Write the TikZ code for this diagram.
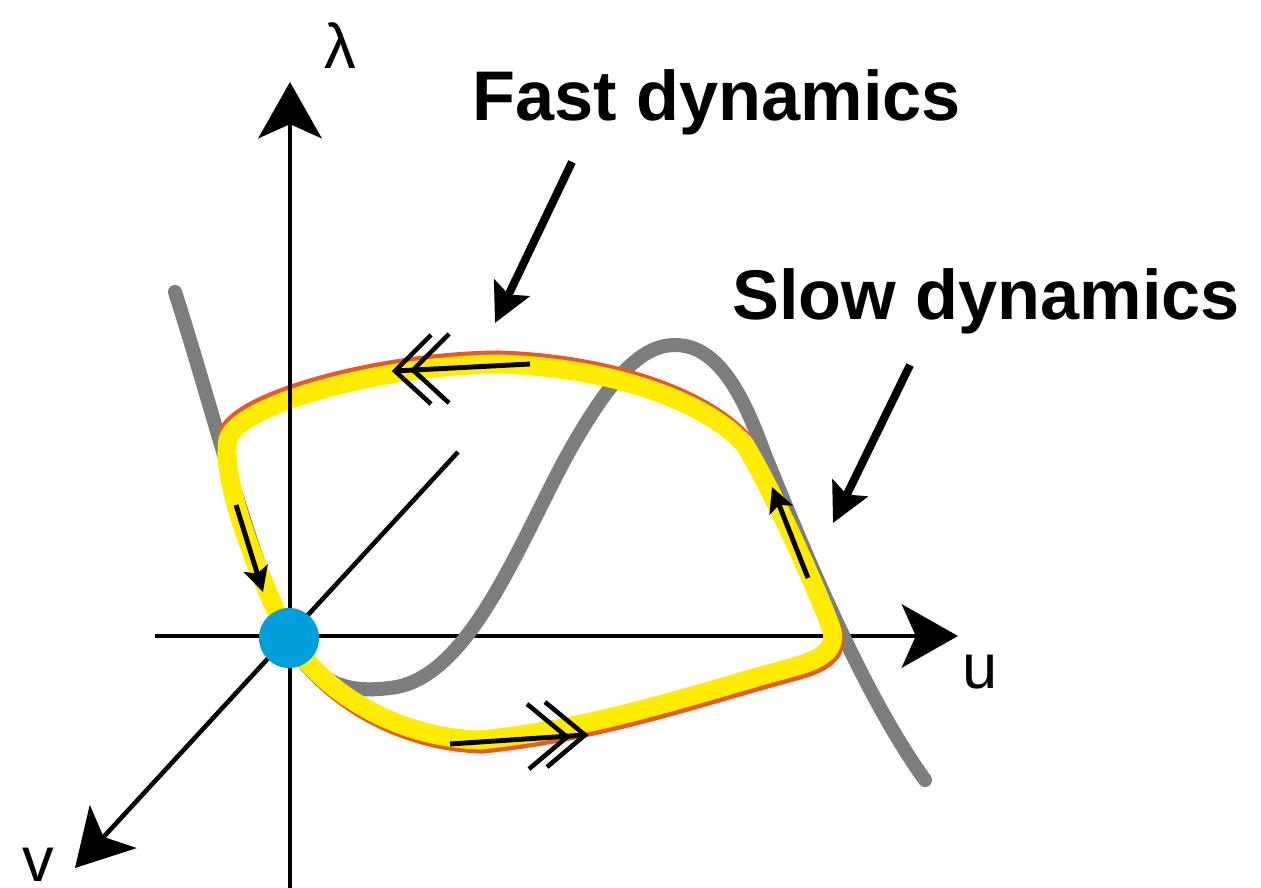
\documentclass[tikz,border=0pt]{standalone}
\usepackage{fontspec}
\setmainfont{Liberation Sans}
\usetikzlibrary{arrows.meta,calc}
\definecolor{gcurve}{RGB}{125,125,125}
\definecolor{ylw}{RGB}{255,236,0}
\definecolor{rd}{RGB}{232,88,40}
\definecolor{dotc}{RGB}{0,158,219}
\begin{document}
\begin{tikzpicture}[x=0.02cm,y=-0.02cm,
  axis/.style={line width=2.6pt,-{Stealth[length=32pt,width=36pt,inset=8pt]}},
  graycurve/.style={line width=8pt,gcurve,line cap=round},
  looppath/.style={line width=10.8pt,ylw},
  redpath/.style={line width=10.8pt,rd},
  loopline/.style={line width=2.8pt,black},
  chev/.style={line width=2.6pt,black,miter limit=10},
  annot/.style={line width=4.6pt,-{Stealth[length=22pt,width=22pt,inset=4pt]}},
  title/.style={font=\fontsize{40}{48}\selectfont\bfseries,inner sep=0pt},
  lab/.style={font=\fontsize{36}{40}\selectfont,inner sep=0pt}]
\clip (0,0) rectangle (1261,888);
\fill[white] (0,0) rectangle (1261,888);

% coordinates
\coordinate (O) at (289,638);
\coordinate (ytop) at (290,82);
\coordinate (ybot) at (290,895);
\coordinate (xl) at (155,636);
\coordinate (xr) at (958,636);
\coordinate (vd) at (458,452);
\coordinate (vt) at (75,868);

% horizontal and diagonal axes
\draw[axis] (xl) -- (xr);
\draw[axis] (vd) -- (vt);

% gray curve
\draw[graycurve] (175,292) .. controls (210,400) and (250,560) .. (O)
  .. controls (320,690) and (355,692) .. (390,688)
  .. controls (470,680) and (520,540) .. (570,450)
  .. controls (610,380) and (640,345) .. (675,345)
  .. controls (720,345) and (745,400) .. (765,455)
  .. controls (800,540) and (860,690) .. (925,780);

% red edges
\draw[redpath,yshift=2.3pt,xshift=-0.8pt] (228,440) .. controls (236,405) and (380,365) .. (500,364)
  .. controls (620,368) and (710,405) .. (745,445);
\draw[redpath,yshift=-2.3pt,xshift=1.2pt] (830,625) .. controls (840,650) and (820,660) .. (790,668)
  .. controls (700,692) and (600,728) .. (480,740)
  .. controls (400,738) and (325,695) .. (O);

% yellow loop
\draw[looppath] (O) .. controls (260,580) and (220,480) .. (228,440)
  .. controls (236,405) and (380,365) .. (500,364)
  .. controls (620,368) and (710,405) .. (745,445)
  .. controls (775,495) and (815,585) .. (830,625)
  .. controls (840,650) and (820,660) .. (790,668)
  .. controls (700,692) and (600,728) .. (480,740)
  .. controls (400,738) and (325,695) .. (O) -- cycle;

% vertical axis
\draw[axis] (ybot) -- (ytop);

% blue dot
\node[circle,fill=dotc,minimum size=1.2cm,inner sep=0pt] (dot) at (O) {};

% arrows on the loop
\coordinate (ta0) at (530,364);
\coordinate (ta1) at (395,371);
\coordinate (ta2) at (413,370);
\draw[loopline] (ta0) -- (ta1);
\draw[chev] ($(ta1)+(36,-36)$) -- (ta1) -- ($(ta1)+(36,33)$);
\draw[chev] ($(ta2)+(36,-36)$) -- (ta2) -- ($(ta2)+(36,33)$);

\coordinate (ba0) at (450,744);
\coordinate (ba1) at (567,737);
\coordinate (ba2) at (585,735);
\draw[loopline] (ba0) -- (ba2);
\draw[chev] ($(ba1)+(-40,-33)$) -- (ba1) -- ($(ba1)+(-38,32)$);
\draw[chev] ($(ba2)+(-40,-33)$) -- (ba2) -- ($(ba2)+(-38,32)$);

\coordinate (ra0) at (808,578);
\coordinate (ra1) at (772,487);
\draw[loopline,-{Stealth[length=14pt,width=14pt,inset=3pt]}] (ra0) -- (ra1);

\coordinate (la0) at (236,505);
\coordinate (la1) at (263,592);
\draw[loopline,-{Stealth[length=14pt,width=14pt,inset=3pt]}] (la0) -- (la1);

% texts
\node[title,anchor=base] (fast) at (717,121) {Fast dynamics};
\node[title,anchor=base] (slow) at (986,320) {Slow dynamics};
\coordinate (fa0) at (572,162);
\coordinate (fa1) at (495,323);
\coordinate (sa0) at (910,365);
\coordinate (sa1) at (833,523);
\draw[annot] (fa0) -- (fa1);
\draw[annot] (sa0) -- (sa1);

% axis labels
\node[lab,anchor=base] (lam) at (340,69) {λ};
\node[lab,anchor=base] (ulab) at (980,688) {u};
\node[lab,anchor=base] (vlab) at (38,881) {v};
\end{tikzpicture}
\end{document}
